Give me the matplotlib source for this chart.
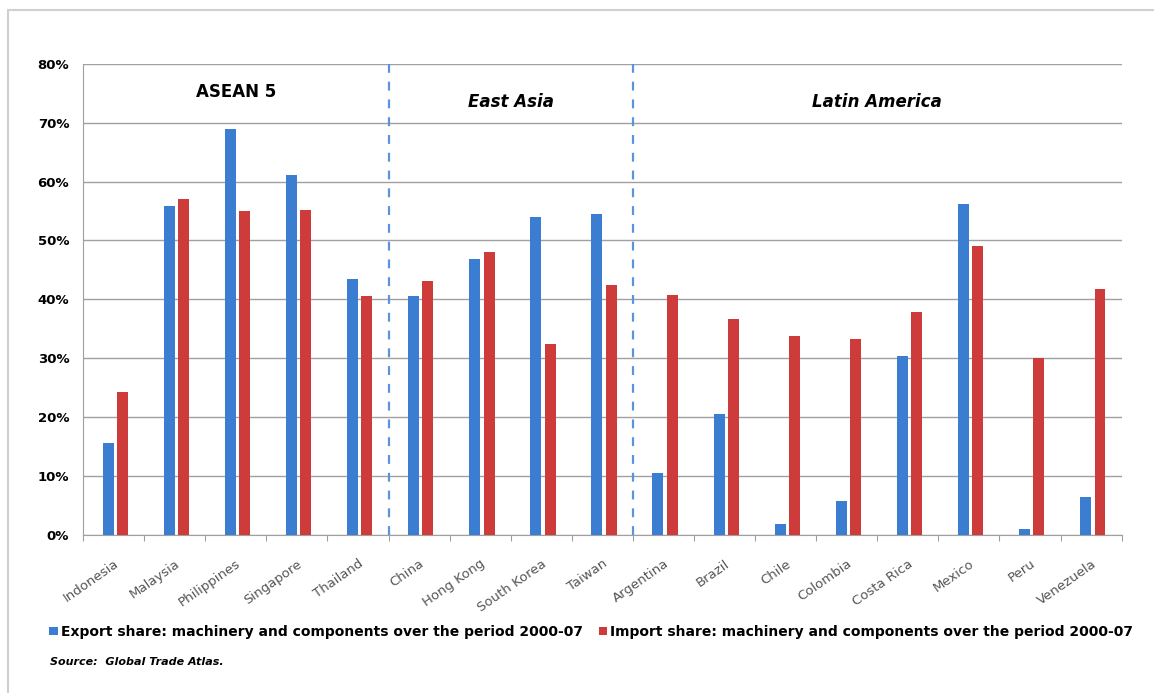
import numpy as np
import matplotlib.pyplot as plt
from matplotlib.patches import Rectangle

countries = ["Indonesia", "Malaysia", "Philippines", "Singapore", "Thailand",
             "China", "Hong Kong", "South Korea", "Taiwan",
             "Argentina", "Brazil", "Chile", "Colombia", "Costa Rica",
             "Mexico", "Peru", "Venezuela"]
export_share = [15.6, 55.9, 69.0, 61.1, 43.5,
                40.6, 46.9, 54.0, 54.5,
                10.5, 20.6, 1.9, 5.8, 30.4, 56.2, 1.0, 6.5]
import_share = [24.3, 57.1, 55.0, 55.2, 40.6,
                43.1, 48.1, 32.4, 42.5,
                40.8, 36.7, 33.8, 33.3, 37.9, 49.1, 30.1, 41.8]
groups = ["ASEAN 5", "East Asia", "Latin America"]
group_sizes = [5, 4, 8]

BLUE = "#3b7dd0"
RED = "#cd3b3b"
DASH = "#5a95d8"

fig = plt.figure(figsize=(11.54, 6.93), dpi=100)
fig.patches.append(Rectangle((0.007, -0.1), 1.2, 1.086, transform=fig.transFigure,
                             fill=False, edgecolor="#d0d0d0", lw=1.5))
ax = fig.add_axes([0.072, 0.228, 0.900, 0.680])

x = np.arange(len(countries))
w = 0.18
ax.bar(x - 0.09, export_share, w, color=BLUE, zorder=3,
       label="Export share: machinery and components over the period 2000-07")
ax.bar(x + 0.145, import_share, w, color=RED, zorder=3,
       label="Import share: machinery and components over the period 2000-07")

ax.set_xlim(-0.5, len(countries) - 0.5)
ax.set_ylim(0, 80)
ax.set_yticks(np.arange(0, 81, 10))
ax.set_yticklabels([f"{v}%" for v in range(0, 81, 10)], fontsize=9.5,
                   fontweight="bold")
ax.yaxis.grid(True, color="#a0a0a0", lw=1, zorder=0)
ax.tick_params(axis="y", length=0, pad=10)

# ticks at category boundaries, labels at centres
ax.set_xticks(np.arange(-0.5, len(countries)), minor=False)
ax.set_xticklabels([])
ax.tick_params(axis="x", length=4, color="#a0a0a0", direction="out")
for xi, name in zip(x, countries):
    ax.annotate(name, (xi + 0.0, 0), xycoords="data", xytext=(0, -16),
                textcoords="offset points", rotation=35, ha="right", va="top",
                rotation_mode="anchor", fontsize=9.5, color="#555555")

for s in ["top", "right"]:
    ax.spines[s].set_visible(False)
ax.spines["left"].set_color("#a0a0a0")
ax.spines["bottom"].set_color("#a0a0a0")

# group separators and headings
edges = np.cumsum(group_sizes)
starts = np.concatenate([[0], edges[:-1]])
for e in edges[:-1]:
    ax.axvline(e - 0.5, color=DASH, ls=(0, (4, 4)), lw=1.6, zorder=4)
for name, s0, e in zip(groups, starts, edges):
    style = "normal" if name == "ASEAN 5" else "italic"
    ypos = 75.2 if name == "ASEAN 5" else 73.5
    ax.text((s0 + e - 1) / 2, ypos, name, ha="center", va="center",
            fontsize=12, fontweight="bold", style=style)

fig.legend(loc="lower left", bbox_to_anchor=(0.032, 0.060), ncol=2,
           frameon=False, handlelength=0.6, handleheight=0.6,
           columnspacing=1.1, handletextpad=0.25,
           prop={"weight": "bold", "size": 10})
fig.text(0.043, 0.041, "Source:  Global Trade Atlas.", fontsize=8,
         fontweight="bold", style="italic")

fig.savefig("out.png", dpi=100)
